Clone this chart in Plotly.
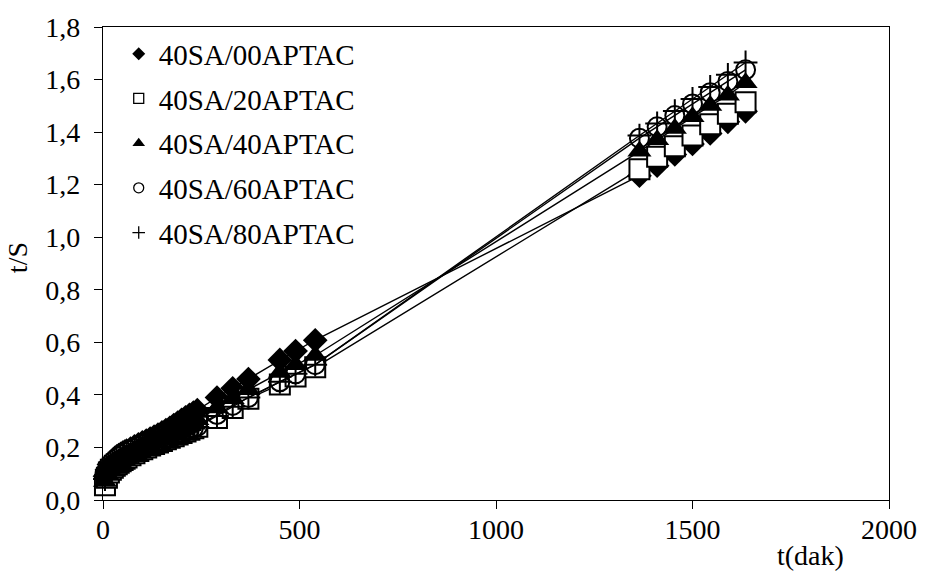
import plotly.graph_objects as go

# Swelling kinetics: t/S against time (dak) for the 40SA series
t_dak = [5, 10, 15, 20, 25, 30, 35, 40, 45, 50, 55, 60,
         70, 80, 90, 100, 110, 120, 130, 140, 150, 160, 170, 180, 190, 200, 210, 220, 230, 240,
         290, 330, 370, 450, 490, 540,
         1365, 1410, 1455, 1500, 1545, 1590, 1635]

ts_00 = [0.090, 0.115, 0.135, 0.145, 0.153, 0.160, 0.166, 0.171, 0.176, 0.180, 0.184, 0.188,
         0.196, 0.204, 0.212, 0.219, 0.226, 0.234, 0.241, 0.249, 0.257, 0.266, 0.275, 0.285,
         0.295, 0.305, 0.315, 0.324, 0.333, 0.342,
         0.390, 0.425, 0.460, 0.533, 0.567, 0.608,
         1.234, 1.272, 1.315, 1.355, 1.395, 1.439, 1.479]
ts_20 = [0.056, 0.085, 0.105, 0.115, 0.123, 0.130, 0.136, 0.142, 0.147, 0.152, 0.157, 0.162,
         0.170, 0.178, 0.186, 0.193, 0.200, 0.207, 0.213, 0.219, 0.225, 0.231, 0.237, 0.243,
         0.249, 0.255, 0.261, 0.267, 0.273, 0.279,
         0.312, 0.350, 0.385, 0.440, 0.470, 0.505,
         1.259, 1.306, 1.346, 1.387, 1.430, 1.470, 1.514]
ts_40 = [0.070, 0.100, 0.120, 0.130, 0.138, 0.145, 0.151, 0.157, 0.162, 0.167, 0.171, 0.175,
         0.183, 0.191, 0.199, 0.207, 0.214, 0.221, 0.228, 0.235, 0.241, 0.248, 0.255, 0.262,
         0.269, 0.276, 0.283, 0.290, 0.297, 0.305,
         0.350, 0.385, 0.420, 0.485, 0.515, 0.550,
         1.327, 1.371, 1.414, 1.458, 1.501, 1.540, 1.588]
ts_60 = [0.100, 0.110, 0.120, 0.127, 0.133, 0.138, 0.143, 0.148, 0.152, 0.156, 0.160, 0.164,
         0.172, 0.180, 0.187, 0.194, 0.201, 0.208, 0.214, 0.220, 0.226, 0.232, 0.238, 0.244,
         0.250, 0.256, 0.262, 0.268, 0.274, 0.280,
         0.325, 0.360, 0.390, 0.450, 0.480, 0.515,
         1.377, 1.420, 1.463, 1.507, 1.550, 1.593, 1.637]
ts_80 = [0.080, 0.100, 0.114, 0.123, 0.130, 0.136, 0.141, 0.146, 0.150, 0.154, 0.158, 0.162,
         0.170, 0.178, 0.185, 0.192, 0.199, 0.206, 0.212, 0.218, 0.224, 0.230, 0.236, 0.242,
         0.248, 0.254, 0.260, 0.266, 0.272, 0.278,
         0.320, 0.355, 0.390, 0.450, 0.480, 0.515,
         1.387, 1.433, 1.480, 1.526, 1.572, 1.618, 1.665]

series_names = ["40SA/00APTAC", "40SA/20APTAC", "40SA/40APTAC", "40SA/60APTAC", "40SA/80APTAC"]
series_values = [ts_00, ts_20, ts_40, ts_60, ts_80]

x_tick_vals = [0, 500, 1000, 1500, 2000]
x_tick_text = ["0", "500", "1000", "1500", "2000"]
y_tick_vals = [0.0, 0.2, 0.4, 0.6, 0.8, 1.0, 1.2, 1.4, 1.6, 1.8]
y_tick_text = ["0,0", "0,2", "0,4", "0,6", "0,8", "1,0", "1,2", "1,4", "1,6", "1,8"]

FONT = "Liberation Serif"
FS = 28

# marker styles: (symbol, size in plot, size in legend, fill, line width)
styles = [
    ("diamond", 19, 10, "black", 0),
    ("square", 20, 10, "white", 2),
    ("triangle-up", 21, 11, "black", 0),
    ("circle", 19, 10, "rgba(0,0,0,0)", 2),
    ("cross-thin", 17, 9, "black", 2),
]

fig = go.Figure()

for name, vals, (sym, size, lsize, fill, lw) in zip(series_names, series_values, styles):
    fig.add_trace(go.Scatter(
        x=t_dak, y=vals, mode="lines+markers", showlegend=False,
        line=dict(color="black", width=1.4),
        marker=dict(symbol=sym, size=size, color=fill,
                    line=dict(color="black", width=lw)),
        cliponaxis=False,
    ))

for name, (sym, size, lsize, fill, lw) in zip(series_names, styles):
    fig.add_trace(go.Scatter(
        x=[None], y=[None], mode="markers", name=name, legendgroup=name,
        marker=dict(symbol=sym, size=lsize, color=fill,
                    line=dict(color="black", width=1.3 if lw else 0)),
    ))

axis_common = dict(
    showgrid=False, zeroline=False, showline=True, linecolor="black", linewidth=1.3,
    mirror=True, ticks="outside", ticklen=8, tickwidth=1.3, tickcolor="black",
    tickfont=dict(family=FONT, size=FS, color="black"),
)

fig.update_xaxes(range=[0, 2000], tickvals=x_tick_vals, ticktext=x_tick_text,
                 ticklabelstandoff=-4, **axis_common)
fig.update_yaxes(range=[0, 1.8], tickvals=y_tick_vals, ticktext=y_tick_text,
                 ticklabelstandoff=8, **axis_common)

fig.add_annotation(text="t/S", xref="paper", yref="paper", x=-0.13, y=0.512,
                   textangle=-90, showarrow=False,
                   font=dict(family=FONT, size=FS, color="black"))
fig.add_annotation(text="t(dak)", xref="paper", yref="paper", x=0.9, y=-0.118,
                   showarrow=False, xanchor="center", yanchor="middle",
                   font=dict(family=FONT, size=FS, color="black"))

fig.update_layout(
    width=930, height=579,
    margin=dict(l=103, r=41, t=16, b=79),
    paper_bgcolor="white", plot_bgcolor="white",
    font=dict(family=FONT, size=FS, color="black"),
    legend=dict(x=0.02, y=0.997, xanchor="left", yanchor="top",
                bgcolor="rgba(0,0,0,0)", itemsizing="trace",
                tracegroupgap=4, itemwidth=30,
                font=dict(family=FONT, size=29, color="black")),
)

fig.write_html("out.html")
